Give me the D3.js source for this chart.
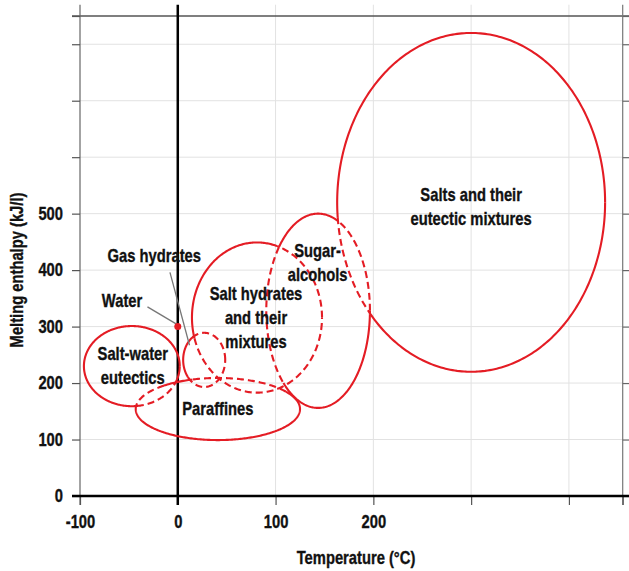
<!DOCTYPE html>
<html>
<head>
<meta charset="utf-8">
<script src="https://cdn.jsdelivr.net/npm/d3@7"></script>
<style>
  html, body { margin: 0; padding: 0; background: #fff; }
  svg { display: block; }
  text { font-family: 'Liberation Sans Narrow', 'Arial Narrow', 'Liberation Sans', Arial, sans-serif; font-weight: bold; fill: #111; stroke: #111; stroke-width: 0.35px; }
</style>
</head>
<body>
<svg id="chart" width="629" height="571"></svg>
<script>
// ---------- data ----------
const xTicks = [-100, 0, 100, 200, 300, 400];
const xTickLabels = ["-100", "0", "100", "200", "", ""];
const yTicks = [0, 100, 200, 300, 400, 500, 600, 700, 800];
const yTickLabels = ["0", "100", "200", "300", "400", "500", "", "", ""];
const xTitle = "Temperature (°C)";
const yTitle = "Melting enthalpy (kJ/l)";

// material classes: temperature centre / half-range (°C), enthalpy centre / half-range (kJ/l)
const classNames = ["Salt-water eutectics", "Paraffines", "Gas hydrates", "Salt hydrates and their mixtures", "Sugar-alcohols", "Salts and their eutectic mixtures"];
const tempCenter = [-47, 41, 27, 81, 143.5, 300];
const tempHalf = [49, 84, 21.5, 66.5, 53, 137];
const enthCenter = [230, 154, 241, 316, 328, 520];
const enthHalf = [71, 55, 48, 133, 172, 300];
// hidden (dashed) arcs of each outline, as angle ranges in degrees
const hiddenArcs = [
  [[-83, -20]],
  [[35, 108], [132, 180]],
  [[220, 480]],
  [[197, 432]],
  [[-1, 68], [140, 228]],
  [[186, 221]]
];

// class labels (lines, anchor in data units)
const labelLines = [
  ["Salt-water", "eutectics"],
  ["Paraffines"],
  ["Gas hydrates"],
  ["Salt hydrates", "and their", "mixtures"],
  ["Sugar-", "alcohols"],
  ["Salts and their", "eutectic mixtures"],
  ["Water"]
];
const labelX = [-46, 41, -24, 80, 143, 300, -57];
const labelY = [241, 143, 415, 347, 423, 522, 335];

// water point
const waterPoint = { t: 0, h: 300 };
// leader lines
const leaders = [
  { from: [-31, 335], to: [0, 303] },
  { from: [-8, 396], to: [12, 267] }
];

// ---------- drawing ----------
const svg = d3.select("#chart");
const x = d3.scaleLinear().domain([-100, 455]).range([80, 622.7]);
const y = d3.scaleLinear().domain([0, 850]).range([496, 16]);
const yTopExt = 870;
const red = "#e41c24";
const SX = 0.82; // horizontal condensing of the bold sans to mimic a narrow face

// gridlines
const grid = svg.append("g");
grid.selectAll("line.gx").data(xTicks.filter(d => d !== -100 && d !== 0)).enter().append("line")
  .attr("x1", d => x(d)).attr("x2", d => x(d))
  .attr("y1", y(0)).attr("y2", y(yTopExt))
  .attr("stroke", "#e2e2e2").attr("stroke-width", 1);
grid.selectAll("line.gy").data(yTicks.filter(d => d !== 0)).enter().append("line")
  .attr("x1", x(-100)).attr("x2", x(455))
  .attr("y1", d => y(d)).attr("y2", d => y(d))
  .attr("stroke", "#e2e2e2").attr("stroke-width", 1);

// frame lines
svg.append("line").attr("x1", x(-100) - 8).attr("x2", 629).attr("y1", y(850)).attr("y2", y(850))
  .attr("stroke", "#555").attr("stroke-width", 1.5);
svg.append("line").attr("x1", x(-100)).attr("x2", x(-100)).attr("y1", y(yTopExt)).attr("y2", y(0) + 9)
  .attr("stroke", "#666").attr("stroke-width", 1.2);
svg.append("line").attr("x1", x(455)).attr("x2", x(455)).attr("y1", y(yTopExt)).attr("y2", y(0) + 9)
  .attr("stroke", "#777").attr("stroke-width", 1.2);

// axes
const yAxis = d3.axisLeft(y).tickValues(yTicks.concat([850])).tickSize(8).tickPadding(9)
  .tickFormat(d => { const i = yTicks.indexOf(d); return i >= 0 ? yTickLabels[i] : ""; });
const gy = svg.append("g").attr("transform", `translate(${x(-100)},0)`).call(yAxis);
gy.select(".domain").remove();
gy.selectAll(".tick line").attr("stroke", "#555").attr("stroke-width", 1.2);
gy.selectAll(".tick text").style("font-size", "18px").attr("fill", "#111")
  .attr("x", -17 / SX).attr("transform", `scale(${SX},1)`);

const yAxisR = d3.axisRight(y).tickValues(yTicks.concat([850])).tickSize(7).tickFormat("");
const gyr = svg.append("g").attr("transform", `translate(${x(455)},0)`).call(yAxisR);
gyr.select(".domain").remove();
gyr.selectAll(".tick line").attr("stroke", "#666").attr("stroke-width", 1.2);

const xAxis = d3.axisBottom(x).tickValues(xTicks.concat([455])).tickSize(9).tickPadding(10)
  .tickFormat(d => { const i = xTicks.indexOf(d); return i >= 0 ? xTickLabels[i] : ""; });
const gx = svg.append("g").attr("transform", `translate(0,${y(0)})`).call(xAxis);
gx.select(".domain").remove();
gx.selectAll(".tick line").attr("stroke", "#555").attr("stroke-width", 1.2);
gx.selectAll(".tick text").style("font-size", "18px").attr("fill", "#111")
  .attr("transform", `scale(${SX},1)`);

// zero line and bottom axis line
svg.append("line").attr("x1", x(0)).attr("x2", x(0)).attr("y1", y(yTopExt)).attr("y2", y(0) + 9)
  .attr("stroke", "#000").attr("stroke-width", 2.5);
svg.append("line").attr("x1", x(-100) - 8).attr("x2", 629).attr("y1", y(0)).attr("y2", y(0))
  .attr("stroke", "#000").attr("stroke-width", 2.5);

// axis titles
svg.append("text").attr("transform", `translate(356,564) scale(${SX},1)`).attr("text-anchor", "middle")
  .style("font-size", "18px").text(xTitle);
svg.append("text").attr("transform", `translate(23,270) rotate(-90) scale(${SX},1)`).attr("text-anchor", "middle")
  .style("font-size", "18px").text(yTitle);

// ellipses
const line = d3.line().x(d => x(d[0])).y(d => y(d[1]));
function isHidden(i, a) {
  return hiddenArcs[i].some(r => {
    for (let k = -1; k <= 1; k++) {
      const aa = a + 360 * k;
      if (aa >= r[0] && aa <= r[1]) return true;
    }
    return false;
  });
}
const eg = svg.append("g");
classNames.forEach((name, i) => {
  const runs = [];
  let cur = null;
  for (let a = 0; a <= 360; a += 1) {
    const h = isHidden(i, a);
    const pt = [tempCenter[i] + tempHalf[i] * Math.cos(a * Math.PI / 180),
                enthCenter[i] + enthHalf[i] * Math.sin(a * Math.PI / 180)];
    if (!cur || cur.hidden !== h) {
      cur = { hidden: h, pts: cur ? [cur.pts[cur.pts.length - 1]] : [] };
      runs.push(cur);
    }
    cur.pts.push(pt);
  }
  runs.forEach(r => {
    eg.append("path").attr("d", line(r.pts)).attr("fill", "none")
      .attr("stroke", red).attr("stroke-width", 2.1)
      .attr("stroke-dasharray", r.hidden ? "7,4" : null);
  });
});

// leader lines
svg.selectAll("line.leader").data(leaders).enter().append("line")
  .attr("x1", d => x(d.from[0])).attr("y1", d => y(d.from[1]))
  .attr("x2", d => x(d.to[0])).attr("y2", d => y(d.to[1]))
  .attr("stroke", "#777").attr("stroke-width", 1.3);

// water point
svg.append("circle").attr("cx", x(waterPoint.t)).attr("cy", y(waterPoint.h)).attr("r", 3.5).attr("fill", red);

// labels
labelLines.forEach((lines, i) => {
  const t = svg.append("text").attr("text-anchor", "middle").style("font-size", "18px")
    .attr("transform", `translate(${x(labelX[i])},${y(labelY[i])}) scale(${SX},1)`);
  lines.forEach((s, k) => {
    t.append("tspan").attr("x", 0).attr("y", k * 24).text(s);
  });
});
</script>
</body>
</html>
